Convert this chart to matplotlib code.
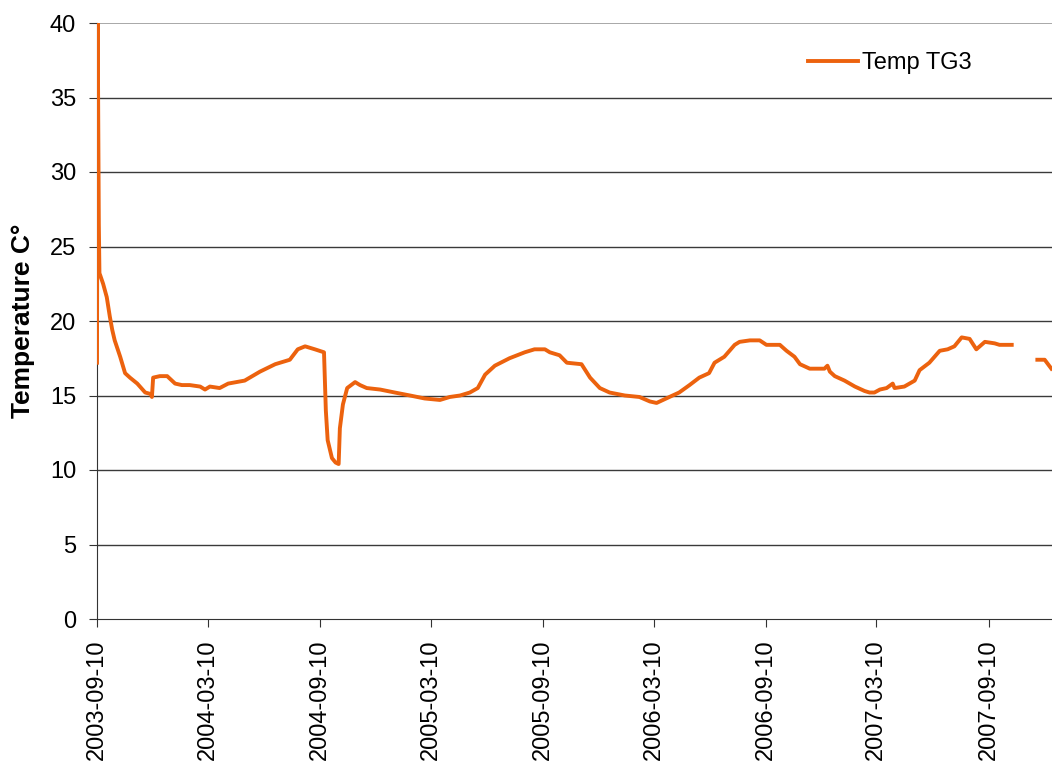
import numpy as np
import matplotlib
matplotlib.use("Agg")
import matplotlib.pyplot as plt

# Temperature log for sensor TG3, days counted from the first reading
start_date = np.datetime64("2003-09-10")
day = [
    0, 1, 3, 4, 5, 10, 16, 21, 25, 29, 38, 46, 54, 66, 79, 88, 90, 92,
    103, 115, 128, 139, 152, 169, 177, 185, 201, 215, 242, 267, 292, 316,
    329, 341, 357, 372, 375, 378, 385, 391, 396, 398, 403, 410, 423, 431,
    442, 464, 488, 513, 537, 562, 578, 595, 611, 624, 636, 652, 676, 701,
    717, 734, 742, 758, 770, 794, 808, 824, 840, 865, 889, 906, 917, 938,
    954, 971, 987, 1003, 1012, 1028, 1045, 1053, 1070, 1086, 1097, 1119,
    1130, 1143, 1152, 1168, 1192, 1197, 1201, 1209, 1225, 1242, 1258, 1266,
    1274, 1283, 1294, 1304, 1307, 1323, 1340, 1348, 1364, 1381, 1394, 1405,
    1417, 1430, 1441, 1455, 1471, 1479, 1499, 1520, 1541, 1553, 1564,
]
temp_tg3 = [
    17.2, 41.0, 26.5, 23.2, 23.1, 22.5, 21.6, 20.3, 19.4, 18.7, 17.6, 16.5,
    16.2, 15.8, 15.2, 15.1, 14.9, 16.2, 16.3, 16.3, 15.8, 15.7, 15.7,
    15.6, 15.4, 15.6, 15.5, 15.8, 16.0, 16.6, 17.1, 17.4, 18.1, 18.3, 18.1,
    17.9, 14.0, 12.0, 10.8, 10.5, 10.4, 12.8, 14.4, 15.5, 15.9, 15.7, 15.5,
    15.4, 15.2, 15.0, 14.8, 14.7, 14.9, 15.0, 15.2, 15.5, 16.4, 17.0, 17.5,
    17.9, 18.1, 18.1, 17.9, 17.7, 17.2, 17.1, 16.2, 15.5, 15.2, 15.0, 14.9,
    14.6, 14.5, 14.9, 15.2, 15.7, 16.2, 16.5, 17.2, 17.6, 18.4, 18.6, 18.7,
    18.7, 18.4, 18.4, 18.0, 17.6, 17.1, 16.8, 16.8, 17.0, 16.6, 16.3, 16.0,
    15.6, 15.3, 15.2, 15.2, 15.4, 15.5, 15.8, 15.5, 15.6, 16.0, 16.7, 17.2,
    18.0, 18.1, 18.3, 18.9, 18.8, 18.1, 18.6, 18.5, 18.4, 18.4, np.nan, 17.4,
    17.4, 16.8,
]
tick_labels = [
    "2003-09-10", "2004-03-10", "2004-09-10", "2005-03-10", "2005-09-10",
    "2006-03-10", "2006-09-10", "2007-03-10", "2007-09-10",
]
y_ticks = [0, 5, 10, 15, 20, 25, 30, 35, 40]

plt.rcParams["font.family"] = ["Liberation Sans", "DejaVu Sans"]

dates = start_date + np.array(day).astype("timedelta64[D]")
tick_dates = np.array(tick_labels, dtype="datetime64[D]")

fig = plt.figure(figsize=(10.52, 7.67), dpi=100)
ax = fig.add_axes([97 / 1052, 1 - 619 / 767, 1 - 97 / 1052, (619 - 23) / 767])

ax.plot(dates, temp_tg3, color="#EC620E", lw=2.8, label="Temp TG3",
        solid_joinstyle="round", zorder=3)

ax.set_ylim(0, 40)
ax.set_xlim(start_date, start_date + np.timedelta64(1565, "D"))
ax.set_yticks(y_ticks)
ax.set_xticks(tick_dates)
ax.set_xticklabels(tick_labels, rotation=90)

for v in y_ticks[1:-1]:
    ax.axhline(v, color="#3a3a3a", lw=1.0, zorder=1)
ax.axhline(40, color="#9a9a9a", lw=1.2, zorder=1)

for side in ("top", "right"):
    ax.spines[side].set_visible(False)
ax.spines["left"].set_color("#333333")
ax.spines["bottom"].set_color("#333333")
ax.tick_params(axis="both", labelsize=17, color="#333333", length=6,
               direction="out")
ax.tick_params(axis="y", pad=9)
ax.tick_params(axis="x", pad=9)

ax.set_ylabel("Temperature C°", fontsize=19, fontweight="bold", labelpad=11)

ax.legend(loc="center left", bbox_to_anchor=(808 / 1052, 1 - 63 / 767),
          bbox_transform=fig.transFigure, frameon=False, fontsize=17,
          borderpad=0, borderaxespad=0, handlelength=2.1, handletextpad=0.2)

fig.savefig("out.png", dpi=100)
